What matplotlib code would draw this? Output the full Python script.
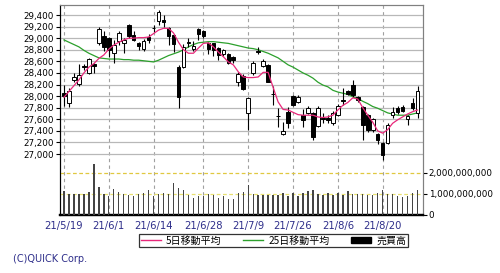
import matplotlib
matplotlib.use("Agg")
import matplotlib.pyplot as plt
from matplotlib.lines import Line2D
from matplotlib.patches import Patch

plt.rcParams['font.family'] = ['Noto Sans CJK JP', 'DejaVu Sans']

# Datos del grafico (ventas diarias, 72 sesiones de 21/5/19 a 21/8/31)
opens = [28050, 27880, 28280, 28210, 28520, 28400, 28560, 28920, 29040, 29000,
         28740, 28950, 28920, 29230, 29050, 28920, 28810, 29020, 29180, 29300,
         29310, 29180, 29060, 28500, 28500, 28920, 28820, 29150, 29120, 28920,
         28910, 28830, 28720, 28720, 28680, 28240, 28350, 27710, 28400, 28770,
         28520, 28530, 28040, 27660, 27340, 27730, 28000, 27900, 27670, 27710,
         27710, 27480, 27620, 27620, 27530, 27680, 27930, 28090, 28190, 27990,
         27810, 27670, 27410, 27350, 27190, 27190, 27680, 27790, 27810, 27600,
         27880, 27710]
closes = [28000, 28093, 28330, 28360, 28500, 28640, 28520, 29160, 28850, 28800,
          28880, 29090, 28970, 29040, 28970, 28870, 28950, 28960, 29170, 29450,
          29280, 29030, 28900, 27980, 28850, 28930, 28870, 29080, 29040, 28810,
          28800, 28710, 28790, 28580, 28630, 28380, 28120, 27970, 28570, 28760,
          28600, 28240, 28030, 27650, 27400, 27530, 27850, 27980, 27580, 27790,
          27290, 27790, 27610, 27590, 27710, 27830, 27920, 28040, 28020, 27930,
          27500, 27410, 27600, 27240, 26980, 27500, 27730, 27720, 27750, 27660,
          27790, 28090]
highs = [28200, 28140, 28400, 28550, 28560, 28660, 28580, 29190, 29120, 29020,
         28970, 29130, 29000, 29250, 29120, 28930, 28980, 29080, 29220, 29490,
         29400, 29200, 29080, 28540, 28900, 29000, 28950, 29170, 29140, 28940,
         28920, 28850, 28820, 28740, 28700, 28420, 28380, 27990, 28610, 28850,
         28640, 28560, 28170, 27790, 27550, 27820, 28020, 28020, 27780, 27830,
         27730, 27830, 27700, 27680, 27740, 27870, 28140, 28110, 28280, 28010,
         27830, 27690, 27630, 27370, 27210, 27540, 27810, 27830, 27850, 27680,
         27960, 28180]
lows = [27830, 27810, 28240, 28170, 28450, 28380, 28400, 28880, 28780, 28680,
        28570, 28890, 28740, 29000, 28950, 28800, 28780, 28920, 29100, 29230,
        29200, 28880, 28760, 27800, 28480, 28850, 28780, 28960, 29000, 28720,
        28700, 28620, 28700, 28560, 28570, 28180, 28100, 27410, 28360, 28720,
        28500, 28240, 27850, 27470, 27330, 27450, 27830, 27880, 27470, 27690,
        27250, 27460, 27540, 27530, 27500, 27650, 27850, 28020, 27990, 27900,
        27240, 27380, 27380, 27180, 26900, 27170, 27620, 27690, 27720, 27500,
        27760, 27620]

ma5 = [27980, 28080, 28180, 28280, 28400, 28500, 28560, 28650, 28710, 28810,
       28880, 28930, 28970, 29000, 29000, 29010, 29010, 29020, 29080, 29140,
       29170, 29170, 29090, 28930, 28800, 28740, 28740, 28830, 28910, 28920,
       28850, 28760, 28680, 28590, 28540, 28420, 28330, 28320, 28320, 28330,
       28410, 28410, 28150, 27900, 27770, 27760, 27720, 27680, 27670, 27670,
       27670, 27640, 27630, 27640, 27670, 27760, 27840, 27890, 27970, 27950,
       27800, 27670, 27550, 27400, 27360, 27420, 27530, 27590, 27640, 27690,
       27730, 27760]
ma25 = [28970, 28930, 28890, 28850, 28790, 28740, 28700, 28660, 28650, 28640,
        28640, 28640, 28630, 28630, 28620, 28620, 28610, 28600, 28590, 28620,
        28660, 28700, 28730, 28760, 28800, 28850, 28890, 28920, 28930, 28940,
        28940, 28930, 28920, 28910, 28890, 28870, 28850, 28830, 28820, 28800,
        28770, 28740, 28700, 28660, 28600, 28540, 28500, 28450, 28400, 28360,
        28310, 28240, 28190, 28160, 28100, 28070, 28050, 28030, 27990, 27960,
        27910, 27870, 27820, 27790, 27750, 27710, 27690, 27670, 27670, 27670,
        27690, 27710]

# Volumen en miles de millones
volumen = [1.16, 1.00, 1.02, 1.00, 1.00, 1.08, 2.42, 1.34, 1.00, 0.92,
           1.24, 1.08, 1.02, 0.95, 0.92, 1.00, 1.03, 1.21, 0.89, 0.98,
           1.03, 1.00, 1.50, 1.29, 1.21, 0.94, 0.81, 0.89, 0.89, 1.02,
           0.95, 0.81, 0.89, 0.77, 0.77, 1.03, 1.10, 1.44, 1.02, 0.95,
           0.94, 0.94, 0.94, 0.97, 1.06, 0.92, 1.05, 0.92, 1.03, 1.16,
           1.19, 1.00, 0.97, 1.06, 0.94, 1.05, 0.95, 1.15, 1.02, 1.00,
           1.02, 0.95, 0.95, 1.03, 1.19, 1.00, 0.98, 0.90, 0.84, 0.89,
           1.03, 1.19]

fechas_idx = [0, 9, 18, 28, 37, 46, 55, 64]
fechas = ["21/5/19", "21/6/1", "21/6/14", "21/6/28", "21/7/9", "21/7/26", "21/8/6", "21/8/20"]

niveles = list(range(27000, 29401, 200))
etiquetas = ["{:,}".format(v) for v in niveles]
vol_ticks = [0, 1e9, 2e9]
vol_etiquetas = ["0", "1,000,000,000", "2,000,000,000"]

x = list(range(len(closes)))

fig = plt.figure(figsize=(5, 2.73), dpi=100)
ax = fig.add_axes([0.119, 0.2125, 0.727, 0.7692])
ax2 = ax.twinx()

# Velas
ax.vlines(x, lows, highs, color="black", linewidth=0.8, zorder=3)
for i in x:
    o, c = opens[i], closes[i]
    abajo = min(o, c)
    alto = max(abs(c - o), 10)
    color = "white" if c >= o else "black"
    ax.bar(i, alto, bottom=abajo, width=0.72, color=color, edgecolor="black",
           linewidth=0.7, zorder=4)

# Medias moviles
ax.plot(x, ma5, color="#e8287a", linewidth=0.9, zorder=5)
ax.plot(x, ma25, color="#2ca02c", linewidth=0.9, zorder=2)

ax.set_xlim(-0.9, 72.1)
ax.set_ylim(25947, 29573)
ax.set_yticks(niveles)
ax.set_yticklabels(etiquetas, fontsize=6.3, family=['DejaVu Sans'])
ax.set_xticks(fechas_idx)
ax.set_xticklabels(fechas, fontsize=7.2, color="#2e2e8a", family=['DejaVu Sans'])
ax.tick_params(axis="y", length=3, width=0.8, pad=1)
ax.tick_params(axis="x", length=0, pad=4)
ax.yaxis.grid(True, color="#b8b8b8", linewidth=0.9)
ax.xaxis.grid(True, color="#a0a0a0", linestyle=(0, (3, 3)), linewidth=0.8)
ax.set_axisbelow(True)

# Volumen
vol = [v * 1e9 for v in volumen]
ax2.bar(x, vol, width=0.28, color="#444444", zorder=3)
ax2.set_ylim(0, 10e9)
ax2.set_yticks(vol_ticks)
ax2.set_yticklabels(vol_etiquetas, fontsize=6.3, family=['DejaVu Sans'])
ax2.tick_params(axis="y", length=3, width=0.8, pad=1)
ax2.axhline(2e9, color="#e0c840", linestyle=(0, (3, 2)), linewidth=0.9, zorder=1)
ax2.axhline(1e9, color="#e8e070", linestyle=(0, (3, 2)), linewidth=0.9, zorder=1)

for a in (ax, ax2):
    a.spines["top"].set_color("#808080")
    a.spines["right"].set_color("#808080")
    a.spines["left"].set_color("black")
    a.spines["bottom"].set_color("black")
    a.spines["bottom"].set_linewidth(1.6)

# Leyenda
handles = [Line2D([0], [0], color="#e8287a", linewidth=1),
           Line2D([0], [0], color="#2ca02c", linewidth=1),
           Patch(facecolor="black", edgecolor="black")]
leg = fig.legend(handles, ["5日移動平均", "25日移動平均", "売買高"], ncol=3,
                 loc="center", bbox_to_anchor=(0.547, 0.119), fontsize=7.2,
                 frameon=True, fancybox=False, edgecolor="black",
                 borderpad=0.15, handlelength=2.0, handleheight=0.6,
                 columnspacing=2.2, handletextpad=0.5, borderaxespad=0)
leg.get_frame().set_linewidth(0.9)

fig.text(0.026, 1 - 259 / 273, "(C)QUICK Corp.", fontsize=7, color="#2e2e8a",
         va="center", family=['DejaVu Sans'])

fig.savefig("out.png", dpi=100, facecolor="white")
